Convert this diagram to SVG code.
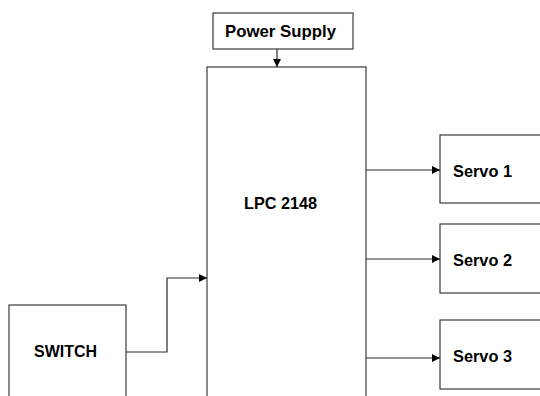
<svg xmlns="http://www.w3.org/2000/svg" width="540" height="396" viewBox="0 0 540 396">
<defs>
<style>
.box{fill:#fff;stroke:#3a3a3a;stroke-width:1.2}
.lbl{font-family:"Liberation Sans",Arial,sans-serif;font-weight:bold;font-size:17px;fill:#000}
.conn{fill:none;stroke:#2a2a2a;stroke-width:1.2}
</style>
<marker id="arr" viewBox="0 0 10 10" refX="10" refY="5" markerWidth="9" markerHeight="8" markerUnits="userSpaceOnUse" orient="auto">
<path d="M0,0 L10,5 L0,10 z" fill="#000"/>
</marker>
</defs>
<rect width="540" height="396" fill="#fff"/>
<g id="power-supply">
<rect class="box" x="213" y="13" width="140" height="36"/>
<text class="lbl" x="225" y="37" textLength="111" lengthAdjust="spacingAndGlyphs">Power Supply</text>
</g>
<g id="lpc2148">
<rect class="box" x="207" y="67" width="159" height="340"/>
<text class="lbl" x="244" y="209" textLength="73" lengthAdjust="spacingAndGlyphs">LPC 2148</text>
</g>
<g id="servo1">
<rect class="box" x="440" y="135" width="110" height="68"/>
<text class="lbl" x="453" y="177" textLength="59" lengthAdjust="spacingAndGlyphs">Servo 1</text>
</g>
<g id="servo2">
<rect class="box" x="440" y="224" width="110" height="69"/>
<text class="lbl" x="453" y="266" textLength="59" lengthAdjust="spacingAndGlyphs">Servo 2</text>
</g>
<g id="servo3">
<rect class="box" x="440" y="320" width="110" height="69"/>
<text class="lbl" x="453" y="362" textLength="59" lengthAdjust="spacingAndGlyphs">Servo 3</text>
</g>
<g id="switch">
<rect class="box" x="9" y="305" width="117" height="110"/>
<text class="lbl" x="34" y="357" textLength="63" lengthAdjust="spacingAndGlyphs">SWITCH</text>
</g>
<g id="connectors">
<path class="conn" d="M277,49 V67" marker-end="url(#arr)"/>
<path class="conn" d="M366,170 H440" marker-end="url(#arr)"/>
<path class="conn" d="M366,259 H440" marker-end="url(#arr)"/>
<path class="conn" d="M366,358 H440" marker-end="url(#arr)"/>
<path class="conn" d="M126,352 H167 V278 H207" marker-end="url(#arr)"/>
</g>
</svg>
